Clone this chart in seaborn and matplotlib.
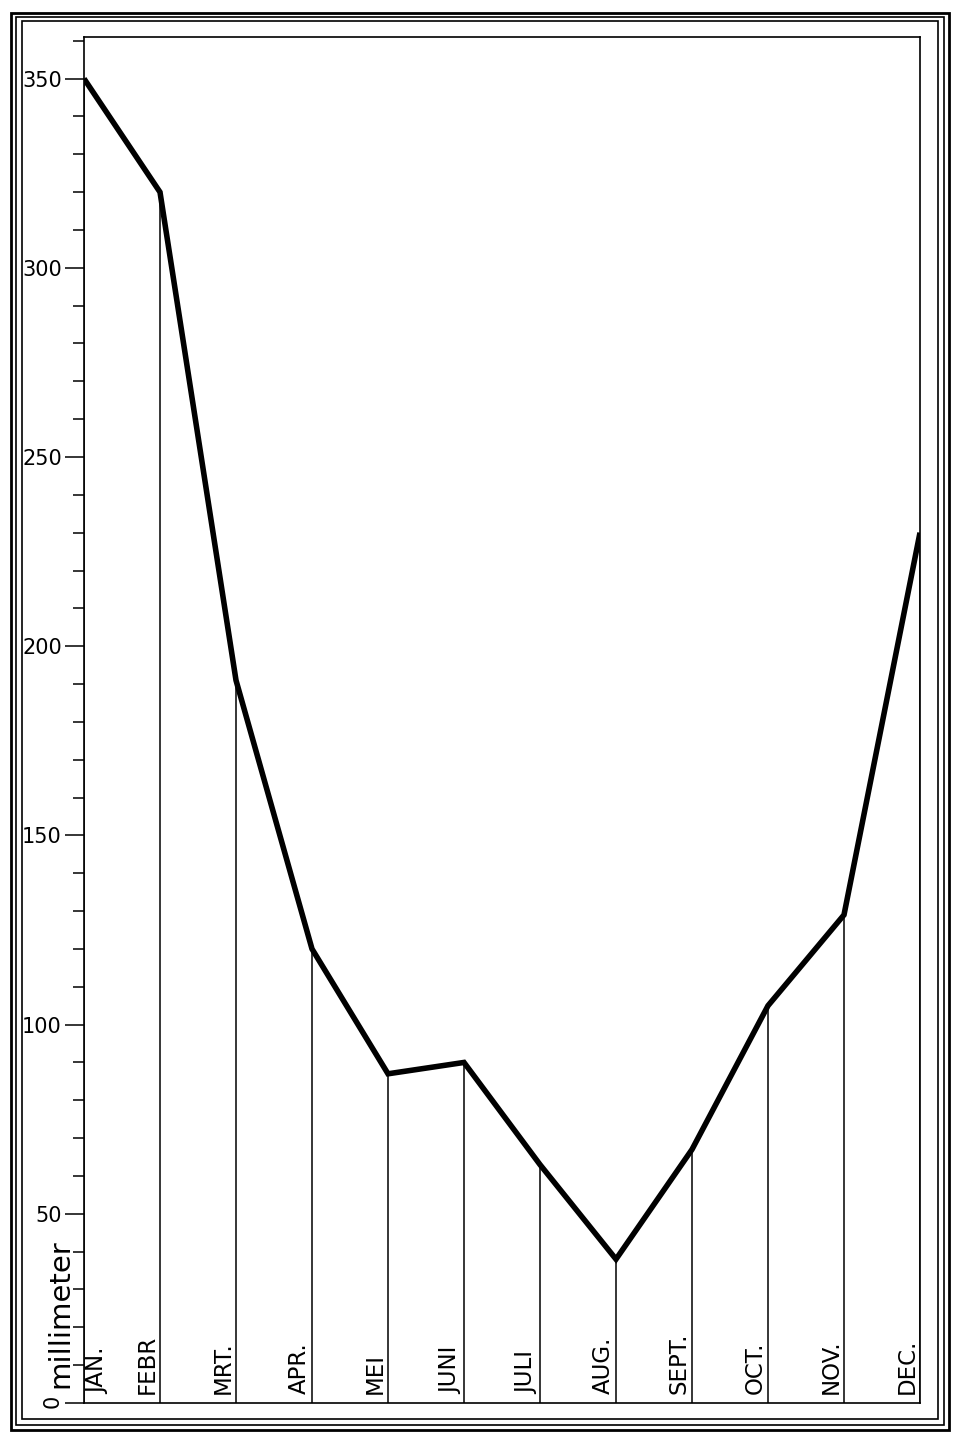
import matplotlib
matplotlib.use("Agg")
import matplotlib.pyplot as plt
import matplotlib.ticker as mticker
from matplotlib.patches import Rectangle
import seaborn as sns
import pandas as pd

months = ["JAN.", "FEBR", "MRT.", "APR.", "MEI", "JUNI", "JULI", "AUG.", "SEPT.", "OCT.", "NOV.", "DEC."]
rainfall_mm = [350, 320, 191, 120, 87, 90, 63, 38, 67, 105, 129, 230]
ytick_values = [0, 50, 100, 150, 200, 250, 300, 350]
ytick_labels = ["", "50", "100", "150", "200", "250", "300", "350"]
axis_label = "millimeter"

sns.set_style("white")
plt.rcParams["font.family"] = ["DejaVu Sans"]
plt.rcParams["text.color"] = "black"
plt.rcParams["ytick.color"] = "black"
plt.rcParams["ytick.labelcolor"] = "black"

W, H = 957, 1440
fig = plt.figure(figsize=(W / 100, H / 100), dpi=100)
ax = fig.add_axes([84 / W, 1 - 1403 / H, (920 - 84) / W, (1403 - 37) / H])

df = pd.DataFrame({"pos": range(len(months)), "mm": rainfall_mm})
sns.lineplot(data=df, x="pos", y="mm", ax=ax, color="black", linewidth=4.0,
             solid_joinstyle="miter", solid_capstyle="butt", zorder=3)
ax.vlines(df["pos"], 0, df["mm"], color="black", linewidth=1.1, zorder=2)

ax.set_xlim(0, len(months) - 1)
ax.set_ylim(0, 361)
ax.set_xticks([])
ax.set_xlabel("")
ax.set_ylabel("")
ax.yaxis.set_major_locator(mticker.FixedLocator(ytick_values))
ax.set_yticklabels(ytick_labels, fontsize=15, color="black")
ax.yaxis.set_minor_locator(mticker.MultipleLocator(10))
ax.tick_params(axis="y", which="major", direction="out", length=14, width=1.1, pad=2,
               left=True, colors="black")
ax.tick_params(axis="y", which="minor", direction="out", length=8, width=1.1, left=True,
               colors="black")
for s in ["left", "right", "top", "bottom"]:
    ax.spines[s].set_visible(True)
    ax.spines[s].set_color("black")
    ax.spines[s].set_linewidth(1.2)

# month labels: rotated, just left of each line (JAN right of axis)
for i, m in enumerate(months):
    if i == 0:
        ax.annotate(m, xy=(i, 0), xytext=(1.5, 6.5), textcoords="offset points",
                    rotation=90, ha="left", va="bottom", fontsize=16.5, color="black")
    else:
        ax.annotate(m, xy=(i, 0), xytext=(-1, 6.5), textcoords="offset points",
                    rotation=90, ha="right", va="bottom", fontsize=16.5, color="black")

# zero label and axis title
fig.text(53 / W, 1 - 1401 / H, "0", rotation=90, ha="center", va="center", fontsize=15,
         color="black")
fig.text(60 / W, 1 - 1388 / H, axis_label, rotation=90, ha="center", va="bottom", fontsize=21,
         color="black")

# decorative triple frame
for (x0, y0, x1, y1, lw) in [(11, 13, 949, 1430, 2.0), (16, 17, 944, 1425, 1.2), (22, 21, 938, 1419, 1.2)]:
    fig.patches.append(Rectangle((x0 / W, 1 - y1 / H), (x1 - x0) / W, (y1 - y0) / H,
                                 transform=fig.transFigure, fill=False,
                                 edgecolor="black", linewidth=lw))

fig.savefig("out.png", dpi=100, facecolor="white")
